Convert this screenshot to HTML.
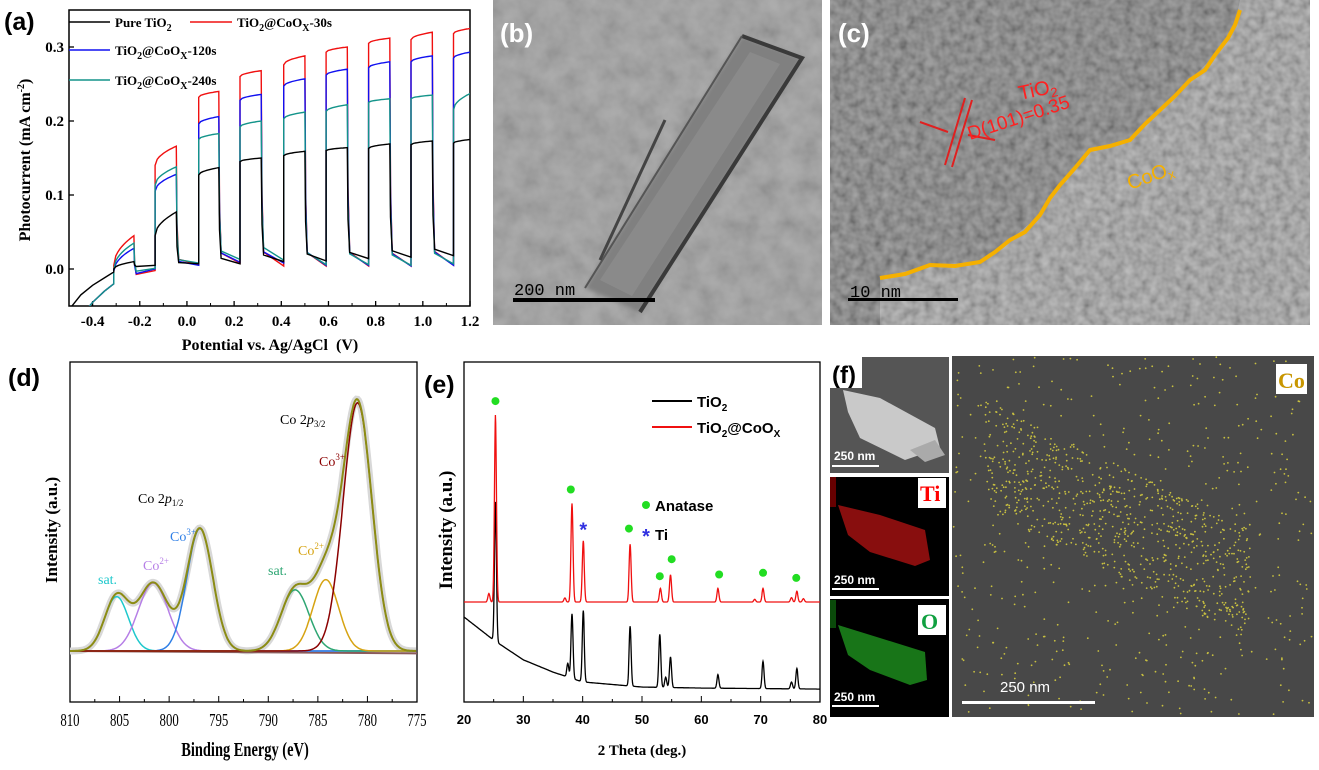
<!DOCTYPE html>
<html><head><meta charset="utf-8"><style>
html,body{margin:0;padding:0;background:#fff;}
svg{display:block;}
text{font-family:"Liberation Serif",serif;}
.sans{font-family:"Liberation Sans",sans-serif;}
</style></head><body>
<svg id="fig" width="1319" height="770" viewBox="0 0 1319 770" xmlns="http://www.w3.org/2000/svg">
<defs>
<filter id="noise" x="0" y="0" width="100%" height="100%"><feTurbulence type="fractalNoise" baseFrequency="0.12" numOctaves="2" seed="3"/><feColorMatrix type="matrix" values="1 0 0 0 0  1 0 0 0 0  1 0 0 0 0  0 0 0 0 0.4"/></filter>
<filter id="noise2" x="0" y="0" width="100%" height="100%"><feTurbulence type="fractalNoise" baseFrequency="0.05" numOctaves="3" seed="7"/><feColorMatrix type="matrix" values="1 0 0 0 0  1 0 0 0 0  1 0 0 0 0  0 0 0 0 0.2"/></filter>
<filter id="blur2"><feGaussianBlur stdDeviation="2"/></filter>
<clipPath id="clipA"><rect x="69" y="10" width="401" height="296"/></clipPath>
<clipPath id="clipC"><rect x="830" y="0" width="480" height="325"/></clipPath>
</defs>

<!-- Panel b TEM -->
<g>
<rect x="493" y="0" width="329" height="325" fill="#9c9c9c"/>
<rect x="493" y="0" width="329" height="325" filter="url(#noise2)"/>
<polygon points="585,288 640,312 802,58 742,36" fill="#808080" filter="url(#blur2)"/>
<polygon points="600,280 632,296 780,64 750,52" fill="#8a8a8a"/>
<polyline points="742,36 802,58 640,312" fill="none" stroke="#3a3a3a" stroke-width="4"/>
<polyline points="742,36 585,288" fill="none" stroke="#555" stroke-width="2"/>
<line x1="665" y1="120" x2="600" y2="260" stroke="#444" stroke-width="3"/>
<rect x="513" y="298" width="142" height="4" fill="#000"/>
<text x="514" y="295" font-size="17" fill="#000" style="font-family:'Liberation Mono',monospace">200 nm</text>
<text x="500" y="42" class="sans" font-size="26" font-weight="bold" fill="#fff">(b)</text>
</g>

<!-- Panel c HRTEM -->
<g clip-path="url(#clipC)">
<rect x="830" y="0" width="480" height="325" fill="#6e6e6e"/>
<polygon points="1240,0 1310,0 1310,325 880,325 880,278 930,265 980,262 1010,240 1040,215 1060,185 1090,150 1130,140 1160,110 1190,80 1215,55 1235,25" fill="#969696"/>
<rect x="830" y="0" width="480" height="325" filter="url(#noise)"/>
<polyline points="880,278 905,274 930,265 955,266 980,262 995,252 1010,240 1025,232 1040,215 1050,198 1060,185 1075,168 1090,150 1110,146 1130,140 1145,124 1160,110 1175,96 1190,80 1205,70 1215,55 1228,38 1235,25 1240,10" fill="none" stroke="#f5b000" stroke-width="4"/>
<line x1="945" y1="165" x2="965" y2="98" stroke="#e02020" stroke-width="2"/>
<line x1="952" y1="167" x2="972" y2="100" stroke="#e02020" stroke-width="2"/>
<line x1="920" y1="122" x2="948" y2="132" stroke="#e02020" stroke-width="2"/>
<line x1="995" y1="140" x2="968" y2="135" stroke="#e02020" stroke-width="2"/>
<text x="1020" y="100" font-size="20" fill="#ff2020" class="sans" transform="rotate(-12 1020 100)">TiO<tspan font-size="13" dy="4">2</tspan></text>
<text x="970" y="140" font-size="19" fill="#ff2020" class="sans" transform="rotate(-18 970 140)">D(101)=0.35</text>
<text x="1130" y="190" font-size="20" fill="#f5b000" class="sans" transform="rotate(-20 1130 190)">CoO<tspan font-size="13" dy="4">x</tspan></text>
<rect x="848" y="298" width="110" height="3" fill="#000"/>
<text x="850" y="297" font-size="17" fill="#000" style="font-family:'Liberation Mono',monospace">10 nm</text>
<text x="838" y="42" class="sans" font-size="26" font-weight="bold" fill="#fff">(c)</text>
</g>

<!-- Panel f -->
<g>
<rect x="830" y="357" width="119" height="116" fill="#555"/>
<polygon points="843,390 880,398 935,428 940,448 905,460 860,438 848,412" fill="#c9c9c9"/>
<polygon points="910,450 935,440 945,455 925,462" fill="#aaa"/>
<rect x="830" y="357" width="32" height="31" fill="#fff"/>
<text x="832" y="383" class="sans" font-size="24" font-weight="bold" fill="#000">(f)</text>
<text x="834" y="460" class="sans" font-size="12" font-weight="bold" fill="#fff">250 nm</text>
<rect x="832" y="465" width="47" height="2" fill="#fff"/>

<rect x="830" y="477" width="119" height="119" fill="#000"/>
<polygon points="838,505 880,515 925,530 930,560 915,566 870,552 848,535" fill="#a01010" opacity="0.85"/>
<rect x="830" y="477" width="6" height="30" fill="#600"/>
<rect x="918" y="478" width="28" height="30" fill="#fff"/>
<text x="920" y="501" font-size="22" font-weight="bold" fill="#ff0000">Ti</text>
<text x="834" y="584" class="sans" font-size="12" font-weight="bold" fill="#fff">250 nm</text>
<rect x="832" y="588" width="47" height="2" fill="#fff"/>

<rect x="830" y="599" width="119" height="118" fill="#000"/>
<polygon points="838,625 880,638 925,652 927,680 910,685 870,670 848,655" fill="#1c8a1c" opacity="0.85"/>
<rect x="830" y="600" width="6" height="28" fill="#0a4a0a"/>
<rect x="918" y="605" width="28" height="30" fill="#fff"/>
<text x="921" y="629" font-size="22" font-weight="bold" fill="#10a040">O</text>
<text x="834" y="701" class="sans" font-size="12" font-weight="bold" fill="#fff">250 nm</text>
<rect x="832" y="705" width="47" height="2" fill="#fff"/>

<rect x="952" y="356" width="362" height="361" fill="#484848"/>
<g id="codots"></g>
<rect x="1276" y="364" width="31" height="30" fill="#fff"/>
<text x="1278" y="388" font-size="22" font-weight="bold" fill="#c89600">Co</text>
<text x="1000" y="692" class="sans" font-size="15" fill="#fff">250 nm</text>
<rect x="962" y="701" width="133" height="3" fill="#fff"/>
</g>

<g id="panelA"></g>
<g id="panelD"></g>
<g id="panelE"></g>
</svg>
<script>
// ===== Panel (a) data =====
const aCycleStart = [-0.31,-0.135,0.05,0.225,0.41,0.59,0.77,0.95,1.13];
const aCycleEnd   = [-0.225,-0.045,0.135,0.315,0.5,0.68,0.86,1.04,1.2];
const aXTicks = [-0.4,-0.2,0.0,0.2,0.4,0.6,0.8,1.0,1.2];
const aXTickLabels = ["-0.4","-0.2","0.0","0.2","0.4","0.6","0.8","1.0","1.2"];
const aYTicks = [0.0,0.1,0.2,0.3];
const aYTickLabels = ["0.0","0.1","0.2","0.3"];
const aPreX = [-0.5,-0.45,-0.4,-0.35,-0.31];
const blackPre = [-0.055,-0.035,-0.022,-0.012,-0.004];
const colorPre = [-0.08,-0.065,-0.045,-0.03,-0.02];
const blackOnStart = [0.0,0.045,0.127,0.145,0.153,0.160,0.163,0.168,0.170];
const blackOnEnd   = [0.010,0.077,0.137,0.150,0.159,0.164,0.169,0.173,0.175];
const redOnStart = [0.005,0.140,0.232,0.260,0.276,0.293,0.305,0.310,0.318];
const redOnEnd   = [0.045,0.166,0.240,0.268,0.288,0.300,0.312,0.320,0.325];
const blueOnStart = [-0.003,0.105,0.196,0.228,0.247,0.262,0.272,0.280,0.285];
const blueOnEnd   = [0.028,0.128,0.206,0.236,0.257,0.270,0.280,0.288,0.293];
const tealOnStart = [0.0,0.113,0.175,0.192,0.203,0.213,0.225,0.230,0.215];
const tealOnEnd   = [0.035,0.138,0.183,0.200,0.212,0.222,0.230,0.235,0.237];
const blackDarkStart = [0.003,0.005,0.008,0.012,0.013,0.015,0.017,0.019];
const blackDarkEnd   = [0.005,0.007,0.007,0.010,0.011,0.014,0.016,0.018];
const redDarkStart = [-0.010,0.005,0.010,0.010,0.008,0.008,0.006,0.008];
const redDarkEnd   = [-0.002,0.006,0.008,0.004,0.004,0.004,0.004,0.005];
const blueDarkStart = [-0.008,0.004,0.012,0.012,0.010,0.008,0.007,0.009];
const blueDarkEnd   = [0.000,0.005,0.009,0.008,0.005,0.005,0.004,0.005];
const tealDarkStart = [-0.005,0.006,0.016,0.020,0.012,0.010,0.008,0.010];
const tealDarkEnd   = [0.001,0.008,0.013,0.012,0.006,0.006,0.005,0.007];

// ===== Panel (d) data =====
const dCenters = [805.3,801.6,796.9,787.3,784.2,781.0];
const dAmps    = [16,20,36,18,21,73];
const dSigmas  = [1.2,1.5,1.3,1.4,1.3,1.45];
const dNames   = ["sat-1","co2-plus-1","co3-plus-1","sat-2","co2-plus-2","co3-plus-2"];
const dColors  = ["#1ec8cc","#b67fe6","#2f7fe6","#2ea673","#d6a312","#8b0000"];
const dBaseline = 15;
const dXTicks = [810,805,800,795,790,785,780,775];

// ===== Panel (e) data =====
const eXTicks = [20,30,40,50,60,70,80];
const redBase = 29.4;
const redPeakPos = [24.2,25.3,37.0,38.2,40.1,48.0,53.1,54.8,62.8,69.0,70.4,75.2,76.1,77.2];
const redPeakH   = [2.5,55,1.2,29,18,17,4,8,4,0.8,4,1.3,3.2,1];
const blackBgX = [20,25,30,35,40,50,60,80];
const blackBgY = [25,18.2,12.4,8.8,5.9,4.4,4.1,3.8];
const blackPeakPos = [25.3,37.5,38.2,40.1,48.0,53.0,54.0,54.8,62.8,70.4,75.2,76.1];
const blackPeakH   = [41,4,19,21,17.6,15.6,3,9,4,8,2,6];
const anataseX = [25.3,38.0,47.8,53.0,55.0,63.0,70.4,76.0];
const anataseY = [88.5,62.5,51,37,42,37.5,38,36.5];
const tiStarX = [40.1];
const tiStarY = [51];

const NS="http://www.w3.org/2000/svg";
function mk(tag,attrs,parent){const e=document.createElementNS(NS,tag);for(const k in attrs)e.setAttribute(k,attrs[k]);parent.appendChild(e);return e;}
function txt(parent,x,y,s,attrs){const t=mk('text',Object.assign({x:x,y:y},attrs||{}),parent);t.innerHTML=s;return t;}

// ---------- Panel A ----------
(function(){
const g=document.getElementById('panelA');
const X0=69,X1=470,Y0=306,Y1=10,xmin=-0.5,xmax=1.2,ymin=-0.05,ymax=0.35;
const sx=v=>X0+(v-xmin)/(xmax-xmin)*(X1-X0);
const sy=v=>Y0-(v-ymin)/(ymax-ymin)*(Y0-Y1);
const frame=mk('rect',{x:X0,y:Y1,width:X1-X0,height:Y0-Y1,fill:'none',stroke:'#000','stroke-width':1.5},g);


aXTicks.forEach((v,i)=>{
  mk('line',{x1:sx(v),x2:sx(v),y1:Y0,y2:Y0-5,stroke:'#000','stroke-width':1.3},g);
  const t=txt(g,sx(v),326,aXTickLabels[i],{'text-anchor':'middle','font-size':15,'font-weight':'bold'});
  
  
});
for(let v=-0.5;v<=1.2001;v+=0.2){mk('line',{x1:sx(v),x2:sx(v),y1:Y0,y2:Y0-3,stroke:'#000'},g);}
aYTicks.forEach((v,i)=>{
  mk('line',{x1:X0,x2:X0+5,y1:sy(v),y2:sy(v),stroke:'#000','stroke-width':1.3},g);
  const t=txt(g,X0-5,sy(v)+5,aYTickLabels[i],{'text-anchor':'end','font-size':15,'font-weight':'bold'});
  
  
});
const xl=txt(g,270,350,'Potential vs. Ag/AgCl&#160;&#160;(V)',{'text-anchor':'middle','font-size':16,'font-weight':'bold'});


const yl=txt(g,0,0,'Photocurrent (mA cm<tspan dy="-6" font-size="10">-2</tspan><tspan dy="6">)</tspan>',{'text-anchor':'middle','font-size':16,'font-weight':'bold',transform:'translate(30,160) rotate(-90)'});


const pl=txt(g,4,30,'(a)',{'font-size':25,'font-weight':'bold',class:'sans'});


function series(pre,onS,onE,dS,dE){
  const pts=[];
  aPreX.forEach((x,i)=>pts.push([x,pre[i]]));
  for(let i=0;i<aCycleStart.length;i++){
    const cs=aCycleStart[i],ce=aCycleEnd[i];
    for(let k=0;k<=10;k++){const t=k/10;pts.push([cs+t*(ce-cs),onS[i]+(onE[i]-onS[i])*Math.sqrt(t)]);}
    if(i<dS.length){
      const ns=aCycleStart[i+1];
      pts.push([ce+0.003,dS[i]+0.35*(onE[i]-dS[i])]);
      pts.push([ce+0.01,dS[i]+0.05*(onE[i]-dS[i])]);
      pts.push([ns,dE[i]]);
    }
  }
  return pts.map((p,i)=>(i?'L':'M')+sx(p[0]).toFixed(1)+','+sy(p[1]).toFixed(1)).join(' ');
}
const cg=mk('g',{'clip-path':'url(#clipA)'},g);
const defs=[[colorPre,tealOnStart,tealOnEnd,tealDarkStart,tealDarkEnd,'#13948a','teal'],
[colorPre,blueOnStart,blueOnEnd,blueDarkStart,blueDarkEnd,'#1010f0','blue'],
[colorPre,redOnStart,redOnEnd,redDarkStart,redDarkEnd,'#f01010','red'],
[blackPre,blackOnStart,blackOnEnd,blackDarkStart,blackDarkEnd,'#000','black']];
[defs[2],defs[1],defs[0],defs[3]].forEach(d=>{
  const p=mk('path',{d:series(d[0],d[1],d[2],d[3],d[4]),fill:'none',stroke:d[5],'stroke-width':1.4},cg);
  
  
});
const leg=[[69,110,22,115,'#000','Pure TiO<tspan font-size="10" dy="4">2</tspan>'],
[190,232,22,237,'#f01010','TiO<tspan font-size="10" dy="4">2</tspan><tspan dy="-4">@CoO</tspan><tspan font-size="10" dy="4">X</tspan><tspan dy="-4">-30s</tspan>'],
[69,110,50,115,'#1010f0','TiO<tspan font-size="10" dy="4">2</tspan><tspan dy="-4">@CoO</tspan><tspan font-size="10" dy="4">X</tspan><tspan dy="-4">-120s</tspan>'],
[69,110,80,115,'#13948a','TiO<tspan font-size="10" dy="4">2</tspan><tspan dy="-4">@CoO</tspan><tspan font-size="10" dy="4">X</tspan><tspan dy="-4">-240s</tspan>']];
leg.forEach((l,i)=>{
  const lg=mk('g',{},g);
  
  
  mk('line',{x1:l[0],x2:l[1],y1:l[2],y2:l[2],stroke:l[4],'stroke-width':1.5},lg);
  txt(lg,l[3],l[2]+5,l[5],{'font-size':13,'font-weight':'bold'});
});
})();

// ---------- Panel D ----------
(function(){
const g=document.getElementById('panelD');
const X0=70,X1=417,Y0=702,Y1=362,xmin=810,xmax=775;
const sx=v=>X0+(xmin-v)/(xmin-xmax)*(X1-X0);
const sy=v=>Y0-v/100*(Y0-Y1);
const fr=mk('rect',{x:X0,y:Y1,width:X1-X0,height:Y0-Y1,fill:'none',stroke:'#000','stroke-width':1.3},g);


dXTicks.forEach(v=>{
  mk('line',{x1:sx(v),x2:sx(v),y1:Y0,y2:Y0-6,stroke:'#000'},g);
  const t=txt(g,sx(v),726,String(v),{'text-anchor':'middle','font-size':16,transform:'translate('+sx(v)+',726) scale(0.8,1.15) translate('+(-sx(v))+',-726)'});
  
  
});
for(let v=807.5;v>775;v-=5){mk('line',{x1:sx(v),x2:sx(v),y1:Y0,y2:Y0-3,stroke:'#000'},g);}
const xt=txt(g,245,756,'Binding Energy (eV)',{'text-anchor':'middle','font-size':17,'font-weight':'bold',transform:'translate(245,756) scale(0.85,1.2) translate(-245,-756)'});


const yt=txt(g,0,0,'Intensity (a.u.)',{'text-anchor':'middle','font-size':17,'font-weight':'bold',transform:'translate(57,530) rotate(-90)'});


const pl=txt(g,8,386,'(d)',{'font-size':25,'font-weight':'bold',class:'sans'});


const gauss=(x,i)=>dAmps[i]*Math.exp(-0.5*Math.pow((x-dCenters[i])/dSigmas[i],2));
const xs=[];for(let x=810;x>=775;x-=0.1)xs.push(x);
const env=xs.map(x=>{let s=dBaseline;for(let i=0;i<dCenters.length;i++)s+=gauss(x,i);return s;});
const raw=mk('path',{d:xs.map((x,k)=>(k?'L':'M')+sx(x).toFixed(1)+','+sy(env[k]).toFixed(1)).join(' '),fill:'none',stroke:'#d8d8d8','stroke-width':7},g);


mk('line',{x1:X0,x2:X1,y1:sy(dBaseline),y2:sy(dBaseline-0.7),stroke:'#8a5a5a','stroke-width':2},g);
dCenters.forEach((c,i)=>{
  const d=xs.map((x,k)=>(k?'L':'M')+sx(x).toFixed(1)+','+sy(dBaseline+gauss(x,i)).toFixed(1)).join(' ');
  const p=mk('path',{d:d,fill:'none',stroke:dColors[i],'stroke-width':1.5},g);
  
  
});
const ep=mk('path',{d:xs.map((x,k)=>(k?'L':'M')+sx(x).toFixed(1)+','+sy(env[k]).toFixed(1)).join(' '),fill:'none',stroke:'#8c8c14','stroke-width':2},g);


const labs=[[280,424,'#000','Co 2<tspan font-style="italic">p</tspan><tspan font-size="9" dy="3">3/2</tspan>'],
[319,466,'#8b0000','Co<tspan font-size="9" dy="-6">3+</tspan>'],
[138,503,'#000','Co 2<tspan font-style="italic">p</tspan><tspan font-size="9" dy="3">1/2</tspan>'],
[170,541,'#2f7fe6','Co<tspan font-size="9" dy="-6">3+</tspan>'],
[143,570,'#b67fe6','Co<tspan font-size="9" dy="-6">2+</tspan>'],
[98,584,'#1ec8cc','sat.'],
[268,575,'#2ea673','sat.'],
[298,555,'#d6a312','Co<tspan font-size="9" dy="-6">2+</tspan>']];
labs.forEach(l=>{
  const t=txt(g,l[0],l[1],l[3],{'font-size':14,fill:l[2]});
  
  
});
})();

// ---------- Panel E ----------
(function(){
const g=document.getElementById('panelE');
const X0=464,X1=820,Y0=702,Y1=362,xmin=20,xmax=80;
const sx=v=>X0+(v-xmin)/(xmax-xmin)*(X1-X0);
const sy=v=>Y0-v/100*(Y0-Y1);
const fr=mk('rect',{x:X0,y:Y1,width:X1-X0,height:Y0-Y1,fill:'none',stroke:'#000','stroke-width':1.3},g);


eXTicks.forEach(v=>{
  mk('line',{x1:sx(v),x2:sx(v),y1:Y0,y2:Y0-6,stroke:'#000'},g);
  const t=txt(g,sx(v),724,String(v),{'text-anchor':'middle','font-size':13,'font-weight':'bold',class:'sans'});
  
  
});
for(let v=25;v<80;v+=10){mk('line',{x1:sx(v),x2:sx(v),y1:Y0,y2:Y0-3,stroke:'#000'},g);}
const xt=txt(g,642,755,'2 Theta (deg.)',{'text-anchor':'middle','font-size':15,'font-weight':'bold'});


const yt=txt(g,0,0,'Intensity (a.u.)',{'text-anchor':'middle','font-size':19,'font-weight':'bold',transform:'translate(452,530) rotate(-90)'});


const pl=txt(g,424,393,'(e)',{'font-size':25,'font-weight':'bold',class:'sans'});


const pk=(x,pos,h)=>{let s=0;for(let i=0;i<pos.length;i++)s+=h[i]*Math.exp(-0.5*Math.pow((x-pos[i])/0.17,2));return s;};
const bg=x=>{for(let i=0;i<blackBgX.length-1;i++){if(x<=blackBgX[i+1]){const t=(x-blackBgX[i])/(blackBgX[i+1]-blackBgX[i]);return blackBgY[i]+t*(blackBgY[i+1]-blackBgY[i]);}}return blackBgY[blackBgY.length-1];};
const xs=[];for(let x=20;x<=80.001;x+=0.05)xs.push(x);
const bp=mk('path',{d:xs.map((x,k)=>(k?'L':'M')+sx(x).toFixed(1)+','+sy(bg(x)+pk(x,blackPeakPos,blackPeakH)).toFixed(1)).join(' '),fill:'none',stroke:'#000','stroke-width':1.3},g);


const rp=mk('path',{d:xs.map((x,k)=>(k?'L':'M')+sx(x).toFixed(1)+','+sy(redBase+pk(x,redPeakPos,redPeakH)).toFixed(1)).join(' '),fill:'none',stroke:'#f01010','stroke-width':1.3},g);


anataseX.forEach((x,i)=>{
  const c=mk('circle',{cx:sx(x),cy:sy(anataseY[i]),r:4,fill:'#22dd22'},g);
  
  
});
tiStarX.forEach((x,i)=>{
  const t=txt(g,sx(x),sy(tiStarY[i])+8,'*',{'text-anchor':'middle','font-size':20,fill:'#3030e0',class:'sans','font-weight':'bold'});
  
  
});
const l1=mk('g',{},g);


mk('line',{x1:652,x2:692,y1:401,y2:401,stroke:'#000','stroke-width':2},l1);
txt(l1,697,407,'TiO<tspan font-size="10" dy="4">2</tspan>',{'font-size':15,'font-weight':'bold',class:'sans'});
const l2=mk('g',{},g);


mk('line',{x1:652,x2:692,y1:427,y2:427,stroke:'#f01010','stroke-width':2},l2);
txt(l2,697,433,'TiO<tspan font-size="10" dy="4">2</tspan><tspan dy="-4">@CoO</tspan><tspan font-size="10" dy="4">X</tspan>',{'font-size':15,'font-weight':'bold',class:'sans'});
const l3=mk('g',{},g);


mk('circle',{cx:646,cy:505,r:4,fill:'#22dd22'},l3);
txt(l3,655,511,'Anatase',{'font-size':15,'font-weight':'bold',class:'sans'});
const l4=mk('g',{},g);


txt(l4,646,543,'*',{'font-size':20,'text-anchor':'middle',fill:'#3030e0','font-weight':'bold',class:'sans'});
txt(l4,655,540,'Ti',{'font-size':15,'font-weight':'bold',class:'sans'});
})();

// ---------- Co map texture dots (deterministic) ----------
(function(){
const g=document.getElementById('codots');
let s=12345;const r=()=>{s=(s*1103515245+12345)%2147483648;return s/2147483648;};
for(let i=0;i<520;i++){mk('circle',{cx:(953+r()*360).toFixed(1),cy:(357+r()*358).toFixed(1),r:0.9,fill:'#c8c040'},g);}
for(let i=0;i<700;i++){const t=r();const cx=985+t*265,cy=455+t*130+(r()-0.5)*110;mk('circle',{cx:cx.toFixed(1),cy:cy.toFixed(1),r:0.9,fill:'#c8c040'},g);}
})();
</script>
</body></html>
